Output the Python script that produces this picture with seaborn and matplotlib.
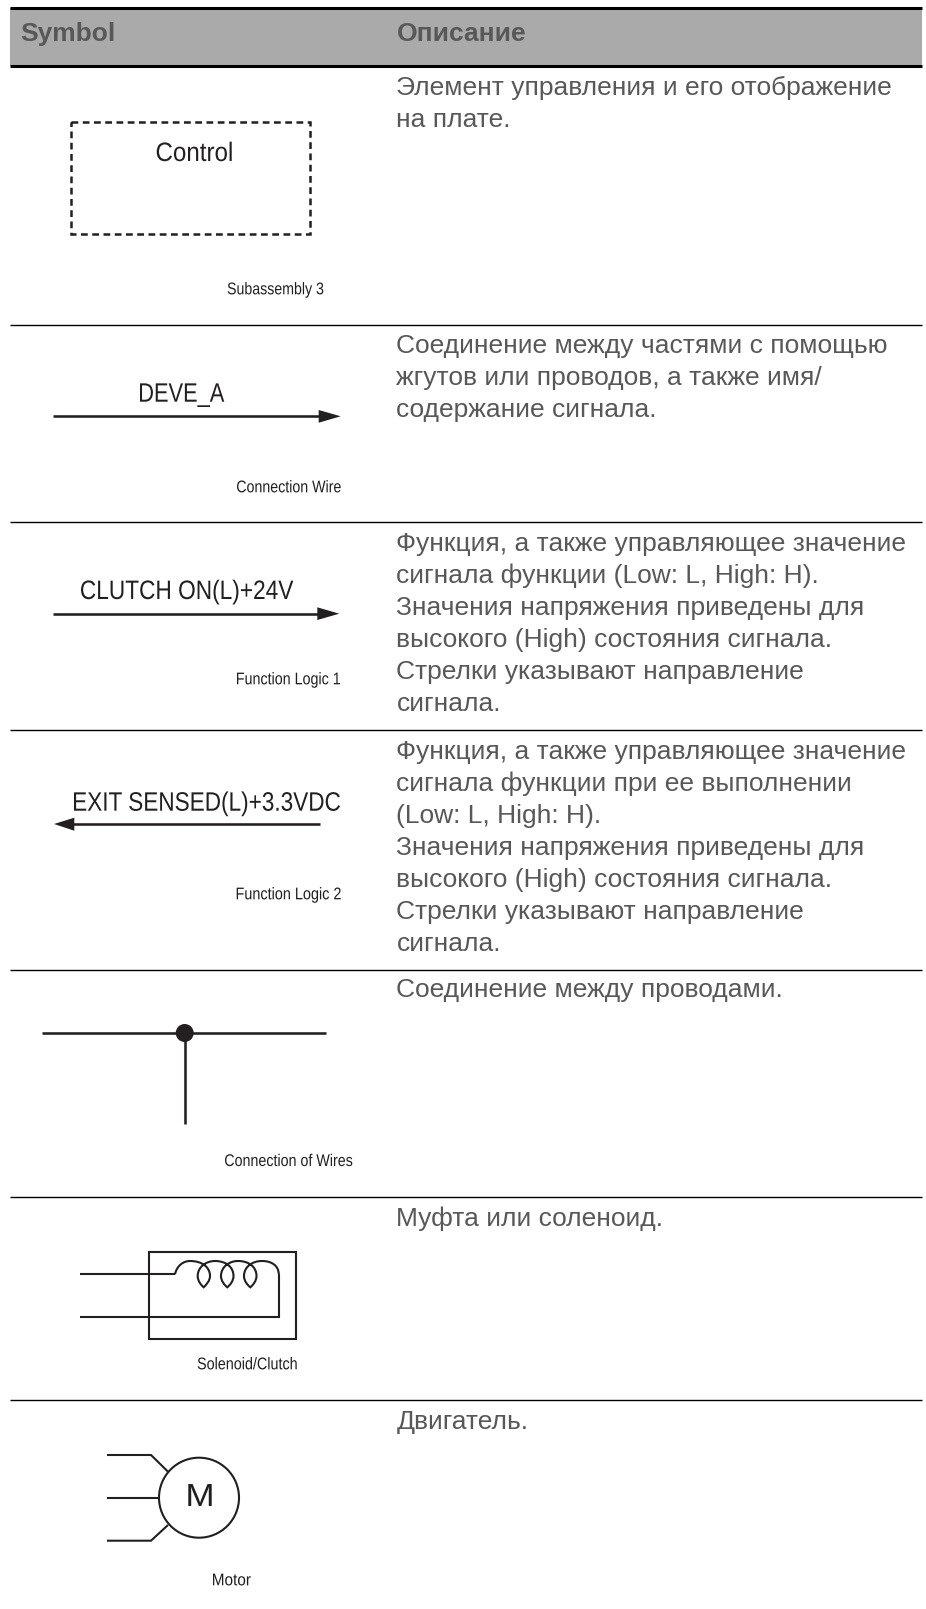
import matplotlib
matplotlib.use("Agg")
import matplotlib.pyplot as plt
from matplotlib.font_manager import FontProperties
from matplotlib.patches import PathPatch, Circle, Rectangle, Polygon
from matplotlib.path import Path
from matplotlib.patheffects import AbstractPathEffect
from matplotlib.textpath import TextPath
from matplotlib.transforms import Affine2D
import seaborn as sns
import pandas as pd

# --- table content ---
headers = ["Symbol", "Описание"]
header_x = [20.5, 396.5]
rule_thick_y = [8, 66]
rule_thin_y = [325, 522.3, 730.3, 970, 1197, 1400]
desc_lines = [
    (94.5, "Элемент управления и его отображение"),
    (126.5, "на плате."),
    (352.7, "Соединение между частями с помощью"),
    (384.7, "жгутов или проводов, а также имя/"),
    (416.7, "содержание сигнала."),
    (551, "Функция, а также управляющее значение"),
    (583, "сигнала функции (Low: L, High: H)."),
    (615, "Значения напряжения приведены для"),
    (647, "высокого (High) состояния сигнала."),
    (679, "Стрелки указывают направление"),
    (711, "сигнала."),
    (758.5, "Функция, а также управляющее значение"),
    (790.5, "сигнала функции при ее выполнении"),
    (822.5, "(Low: L, High: H)."),
    (854.5, "Значения напряжения приведены для"),
    (886.5, "высокого (High) состояния сигнала."),
    (918.5, "Стрелки указывают направление"),
    (950.5, "сигнала."),
    (997, "Соединение между проводами."),
    (1226, "Муфта или соленоид."),
    (1429, "Двигатель."),
]
# text, left, right, baseline (condensed labels)
symbol_labels = [
    ("Control", 156.7, 231.7, 161),
    ("DEVE_A", 140, 224.3, 401.7),
    ("CLUTCH ON(L)+24V", 81, 293.3, 599),
    ("EXIT SENSED(L)+3.3VDC", 74, 340, 810.7),
]
caption_labels = [
    ("Subassembly 3", 227.7, 323.3, 294.3),
    ("Connection Wire", 237, 340.7, 492.3),
    ("Function Logic 1", 237, 340, 684.3),
    ("Function Logic 2", 236.7, 340.7, 899.3),
    ("Connection of Wires", 225, 352.3, 1166),
    ("Solenoid/Clutch", 197.7, 296.7, 1369.3),
    ("Motor", 213, 250.7, 1585.3),
]
motor_label = ("M", 188.3, 211.7, 1506)
heavy_wires = [
    ([52.7, 320], [416.3, 416.3]),
    ([52.7, 318], [613.7, 613.7]),
    ([73, 319.7], [824, 824]),
    ([41.7, 326], [1033, 1033]),
    ([184.7, 184.7], [1033, 1124]),
]
light_wires = [
    ([80, 175], [1274.3, 1274.3]),
    ([80, 278.7, 278.7], [1317, 1317, 1274]),
    ([107, 151, 168], [1455, 1455, 1471.7]),
    ([107, 158], [1497.7, 1497.7]),
    ([107, 151, 168], [1540.7, 1540.7, 1525]),
]
arrow_heads = [
    [(318.7, 410), (340.7, 416.3), (318.7, 422.7)],
    [(317.3, 607.3), (339.3, 613.7), (317.3, 620)],
    [(74.3, 817.7), (54, 824), (74.3, 830.7)],
]
control_box = (71.3, 121.7, 238.7, 112.6)
solenoid_box = (149, 1252, 147, 87)
motor_circle = (199, 1497.7, 40)
junction_dot = (184.7, 1033, 9)
coil_start = (175, 1274.3)
coil_curves = [
    ((177, 1265), (184, 1261), (190, 1261)),
    ((202, 1261), (210, 1267), (210, 1276)),
    ((210, 1281), (206, 1285), (203.7, 1287.3)),
    ((201, 1285), (197.7, 1281), (197.7, 1276)),
    ((197.7, 1267), (206, 1261), (215, 1261)),
    ((226, 1261), (233.5, 1267), (233.5, 1276)),
    ((233.5, 1281), (230, 1285), (227.3, 1287.3)),
    ((224.5, 1285), (221, 1281), (221, 1276)),
    ((221, 1267), (229, 1261), (238, 1261)),
    ((249, 1261), (256.5, 1267), (256.5, 1276)),
    ((256.5, 1281), (253, 1285), (250.3, 1287.3)),
    ((247.5, 1285), (244, 1281), (244, 1276)),
    ((244, 1267), (252, 1261), (262, 1261)),
    ((272, 1261), (278.7, 1266), (278.7, 1274)),
]

sns.set_theme(style="white")
plt.rcParams["font.family"] = ["Liberation Sans", "DejaVu Sans"]
INK = "#231f20"
TXT = "#585858"

fig = plt.figure(figsize=(9.26, 16.09), dpi=100)
ax = fig.add_axes([0, 0, 1, 1])
ax.set_xlim(0, 926)
ax.set_ylim(1609, 0)
ax.axis("off")


class Squeeze(AbstractPathEffect):
    """Draw a text narrower, like the condensed face of the original."""

    def __init__(self, sx):
        super().__init__()
        self.sx = sx

    def draw_path(self, renderer, gc, tpath, affine, rgbFace=None):
        renderer.draw_path(gc, tpath, Affine2D().scale(self.sx, 1) + affine, rgbFace)


def fitted_text(label, left, right, base, size, color=INK):
    prop = FontProperties(family="Liberation Sans", size=size)
    box = TextPath((0, 0), label, prop=prop).get_extents()
    ink_w = box.width * 100 / 72
    sx = (right - left) / ink_w
    x = left - box.x0 * 100 / 72 * sx
    ax.text(x, base, label, fontsize=size, color=color, va="baseline", ha="left",
            family="Liberation Sans", path_effects=[Squeeze(sx)])


def wire(xs, ys, lw, color=INK):
    df = pd.DataFrame({"x": xs, "y": ys})
    sns.lineplot(data=df, x="x", y="y", sort=False, estimator=None, ax=ax, color=color,
                 linewidth=lw, legend=False, solid_capstyle="butt", solid_joinstyle="miter")


ax.add_patch(Rectangle((10, 8), 912, 58, facecolor="#aaaaaa", edgecolor="none", zorder=0))
for y in rule_thick_y:
    wire([10, 922], [y, y], 2.2, "#000000")
for y in rule_thin_y:
    wire([10, 922], [y, y], 1.0, "#000000")

for x, h in zip(header_x, headers):
    ax.text(x, 40.7, h, fontsize=19, fontweight="bold", color=TXT, va="baseline", ha="left")
for y, s in desc_lines:
    ax.text(396.5, y, s, fontsize=19, color=TXT, va="baseline", ha="left")
for s, l, r, b in symbol_labels:
    fitted_text(s, l, r, b, 19.2)
for s, l, r, b in caption_labels:
    fitted_text(s, l, r, b, 12.2)
fitted_text(*motor_label, 23)

for xs, ys in heavy_wires:
    wire(xs, ys, 1.85)
for xs, ys in light_wires:
    wire(xs, ys, 1.5)
for tri in arrow_heads:
    ax.add_patch(Polygon(tri, closed=True, facecolor=INK, edgecolor="none"))

x0, y0, w, h = control_box
ax.add_patch(Rectangle((x0, y0), w, h, fill=False, edgecolor=INK, linewidth=1.8,
                       linestyle=(0, (2.7, 1.8))))
jx, jy, jr = junction_dot
ax.add_patch(Circle((jx, jy), jr, facecolor=INK, edgecolor="none", zorder=5))
x0, y0, w, h = solenoid_box
ax.add_patch(Rectangle((x0, y0), w, h, fill=False, edgecolor=INK, linewidth=1.5))
verts = [coil_start]
codes = [Path.MOVETO]
for c1, c2, p in coil_curves:
    verts += [c1, c2, p]
    codes += [Path.CURVE4] * 3
ax.add_patch(PathPatch(Path(verts, codes), fill=False, edgecolor=INK, linewidth=1.5))
cx, cy, r = motor_circle
ax.add_patch(Circle((cx, cy), r, fill=False, edgecolor=INK, linewidth=1.5))

fig.savefig("out.png", dpi=100, facecolor="white")
